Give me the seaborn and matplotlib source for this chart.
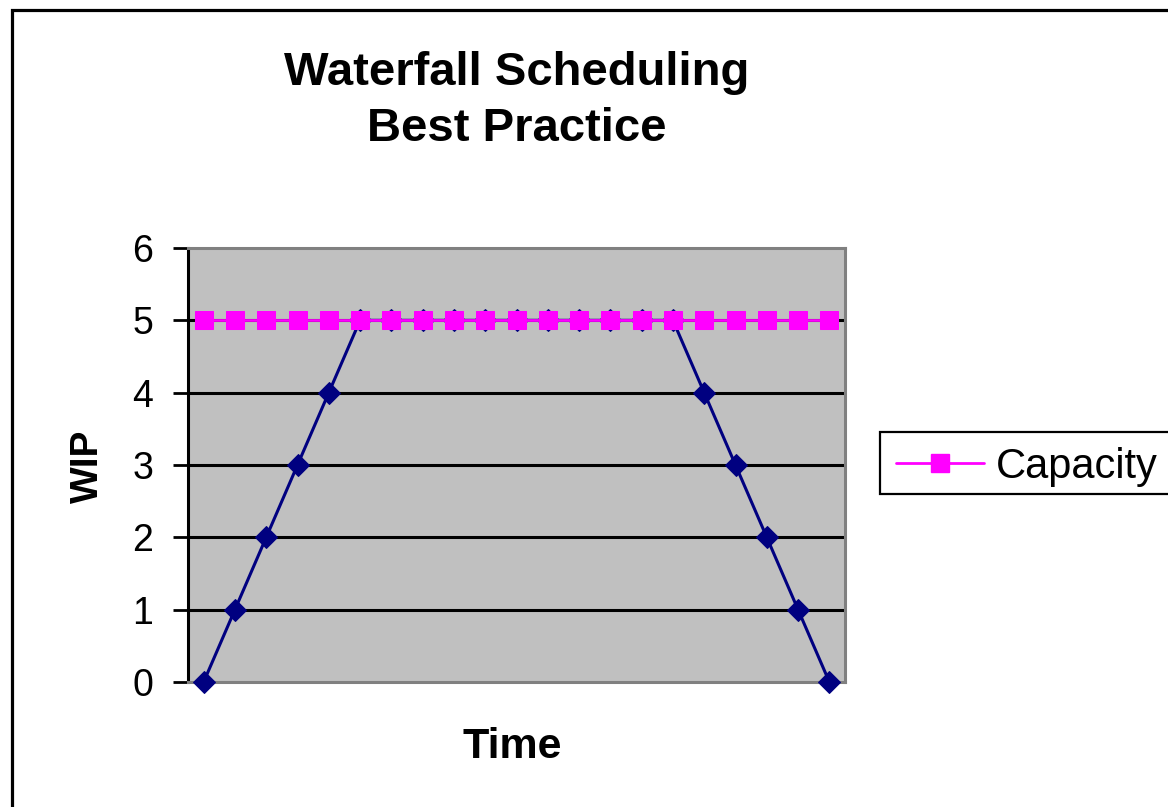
import matplotlib
matplotlib.use("Agg")
import matplotlib.pyplot as plt
import matplotlib.patches as mpatches
from matplotlib.lines import Line2D
import seaborn as sns
import pandas as pd

# Schedule data: 21 time periods
time_steps = list(range(21))
wip = [0, 1, 2, 3, 4, 5, 5, 5, 5, 5, 5, 5, 5, 5, 5, 5, 4, 3, 2, 1, 0]
capacity = [5] * 21
y_ticks = [0, 1, 2, 3, 4, 5, 6]

sns.set_theme(style="white")
plt.rcParams["font.family"] = ["Liberation Sans", "DejaVu Sans"]
plt.rcParams["text.color"] = "black"
plt.rcParams["ytick.labelcolor"] = "black"

df = pd.DataFrame({"Time": time_steps, "WIP": wip, "Capacity": capacity})

W, H = 1168, 807
fig = plt.figure(figsize=(W / 100, H / 100), dpi=100)
fig.patch.set_facecolor("white")

# Chart-area border (extends past the right and bottom edges)
fig.patches.append(mpatches.Rectangle(
    (12 / W, -0.05), 1.2, 1 - 9.5 / H + 0.05, transform=fig.transFigure,
    fill=False, edgecolor="black", linewidth=2.3, zorder=0))

ax = fig.add_axes([188 / W, 1 - 682 / H, (845 - 188) / W, (682 - 248) / H])
ax.set_facecolor("#C0C0C0")

sns.lineplot(data=df, x="Time", y="WIP", ax=ax, color="#000080", linewidth=2.2,
             marker="D", markersize=11.5, markeredgecolor="#000080",
             clip_on=False, zorder=3, legend=False)
sns.lineplot(data=df, x="Time", y="Capacity", ax=ax, color="#FF00FF", linewidth=2,
             marker="s", markersize=13, markeredgecolor="#FF00FF",
             clip_on=False, zorder=4, legend=False)

ax.set_xlim(-0.5, 20.5)
ax.set_ylim(0, 6)
ax.set_yticks(y_ticks)
ax.set_yticklabels([str(v) for v in y_ticks], fontsize=27, color="black")
ax.set_xticks([])
ax.set_xlabel("")
ax.set_ylabel("")
ax.tick_params(axis="y", direction="out", length=11, width=2, color="black",
               pad=14, left=True)

# Horizontal gridlines at the interior ticks
for v in y_ticks[1:-1]:
    ax.axhline(v, color="black", linewidth=2.2, zorder=1)

for side in ["top", "right", "bottom"]:
    ax.spines[side].set_color("#808080")
    ax.spines[side].set_linewidth(2.2)
ax.spines["left"].set_color("black")
ax.spines["left"].set_linewidth(2.2)

fig.text(516.5 / W, 1 - 101 / H, "Waterfall Scheduling\nBest Practice",
         ha="center", va="center", fontsize=34, fontweight="bold",
         linespacing=1.38, color="black")
fig.text(512 / W, 1 - 747 / H, "Time", ha="center", va="center",
         fontsize=31, fontweight="bold", color="black")
fig.text(88 / W, 1 - 466 / H, "WIP", ha="center", va="center", rotation=90,
         fontsize=28, fontweight="bold", color="black")

# Legend box (runs past the right edge of the chart area)
fig.patches.append(mpatches.Rectangle(
    (880 / W, 1 - 494 / H), 0.3, 62 / H, transform=fig.transFigure,
    facecolor="white", edgecolor="black", linewidth=1.6, zorder=1))

handle = Line2D([], [], color="#FF00FF", linewidth=2, marker="s", markersize=13,
                markeredgecolor="#FF00FF")
leg = fig.legend([handle], ["Capacity"], loc="center left",
                 bbox_to_anchor=(896 / W, 1 - 467 / H), fontsize=30,
                 frameon=False, borderaxespad=0, borderpad=0,
                 handlelength=2.1, handletextpad=0.3)
leg.set_zorder(2)
for t in leg.get_texts():
    t.set_color("black")

fig.savefig("out.png", dpi=100)
